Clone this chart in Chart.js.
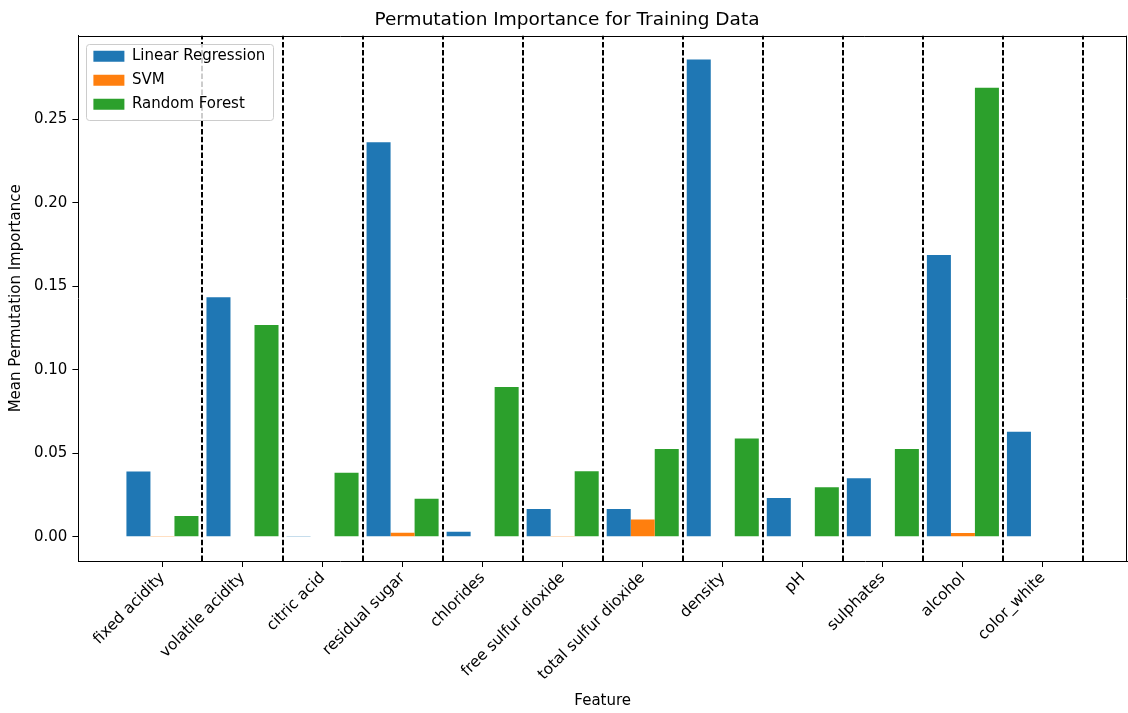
<!DOCTYPE html>
<html lang="en">
<head>
<meta charset="utf-8">
<title>Permutation Importance for Training Data</title>
<script src="https://cdn.jsdelivr.net/npm/chart.js@4.4.1/dist/chart.umd.min.js"></script>
<style>
  body { margin: 0; background: #fff; }
</style>
</head>
<body>
<canvas id="importance-chart" width="1128" height="713"></canvas>
<script>
const features = ['fixed acidity', 'volatile acidity', 'citric acid', 'residual sugar', 'chlorides',
  'free sulfur dioxide', 'total sulfur dioxide', 'density', 'pH', 'sulphates', 'alcohol', 'color_white'];
const linearRegression = [0.0390, 0.1433, 0.0005, 0.2361, 0.0030, 0.0166, 0.0166, 0.2857, 0.0232, 0.0350, 0.1687, 0.0628];
const svm = [0.0005, 0, 0, 0.0024, 0, 0.0005, 0.0104, 0, 0, 0, 0.0022, 0];
const randomForest = [0.0124, 0.1268, 0.0384, 0.0228, 0.0896, 0.0392, 0.0526, 0.0588, 0.0296, 0.0526, 0.2687, 0];

const toPoints = values => values.map((v, i) => ({ x: i, y: v }));

Chart.defaults.font.family = '"DejaVu Sans", sans-serif';
Chart.defaults.color = '#000';

// dashed separators between features, legend backdrop and the axes frame
const decorations = {
  id: 'decorations',
  afterLayout(chart) {
    // keep the legend inside the upper left corner of the plot
    const legend = chart.legend;
    const area = chart.chartArea;
    const w = legend.width;
    const h = legend.height;
    legend.left = area.left + 6;
    legend.right = legend.left + w;
    legend.top = area.top + 4;
    legend.bottom = legend.top + h;
  },
  beforeDraw(chart) {
    const { ctx, chartArea, scales: { x } } = chart;
    ctx.save();
    ctx.strokeStyle = '#000';
    ctx.lineWidth = 2;
    ctx.setLineDash([5.5, 2.4]);
    features.forEach((name, i) => {
      const px = Math.round(x.getPixelForValue(i + 0.5));
      ctx.beginPath();
      ctx.moveTo(px, chartArea.bottom);
      ctx.lineTo(px, chartArea.top);
      ctx.stroke();
    });
    ctx.restore();

    const boxes = chart.legend.legendHitBoxes;
    if (!boxes || !boxes.length) return;
    const left = Math.min(...boxes.map(b => b.left)) - 7;
    const top = Math.min(...boxes.map(b => b.top)) - 5;
    const right = Math.max(...boxes.map(b => b.left + b.width)) + 8;
    const bottom = Math.max(...boxes.map(b => b.top + b.height)) + 8;
    ctx.save();
    ctx.fillStyle = 'rgba(255,255,255,0.8)';
    ctx.strokeStyle = '#cccccc';
    ctx.lineWidth = 1;
    ctx.beginPath();
    ctx.roundRect(Math.round(left) + 0.5, Math.round(top) + 0.5, Math.round(right - left), Math.round(bottom - top), 3);
    ctx.fill();
    ctx.stroke();
    ctx.restore();
  },
  afterDraw(chart) {
    const { ctx, chartArea } = chart;
    ctx.save();
    ctx.strokeStyle = '#000';
    ctx.lineWidth = 1;
    ctx.beginPath();
    ctx.moveTo(chartArea.left, Math.round(chartArea.top) + 0.5);
    ctx.lineTo(chartArea.right, Math.round(chartArea.top) + 0.5);
    ctx.moveTo(Math.round(chartArea.right) - 0.5, chartArea.top);
    ctx.lineTo(Math.round(chartArea.right) - 0.5, chartArea.bottom);
    ctx.stroke();
    ctx.restore();
  }
};

const ctx = document.getElementById('importance-chart').getContext('2d');
const chart = new Chart(ctx, {
  type: 'bar',
  data: {
    datasets: [
      { label: 'Linear Regression', data: toPoints(linearRegression), backgroundColor: '#1f77b4' },
      { label: 'SVM', data: toPoints(svm), backgroundColor: '#ff7f0e' },
      { label: 'Random Forest', data: toPoints(randomForest), backgroundColor: '#2ca02c' },
    ],
  },
  options: {
    responsive: false,
    animation: false,
    categoryPercentage: 0.9,
    barPercentage: 1.0,
    borderWidth: 0,
    inflateAmount: 0,
    layout: { padding: { left: 7, right: 1, top: 0, bottom: 0 } },
    plugins: {
      title: {
        display: true,
        text: 'Permutation Importance for Training Data',
        font: { size: 18.5, weight: 'normal' },
        padding: { top: 9, bottom: 4.5 },
      },
      legend: {
        position: 'chartArea',
        align: 'start',
        labels: {
          boxWidth: 31,
          boxHeight: 11,
          padding: 9,
          font: { size: 15 },
        },
      },
      tooltip: { enabled: false },
    },
    scales: {
      x: {
        type: 'linear',
        min: -1.05,
        max: 12.05,
        offset: false,
        afterBuildTicks: axis => {
          axis.ticks = features.map((name, i) => ({ value: i }));
        },
        ticks: {
          autoSkip: false,
          minRotation: 45,
          maxRotation: 45,
          padding: 2,
          font: { size: 15.4 },
          callback: value => features[value],
        },
        grid: { offset: false, drawOnChartArea: false, tickLength: 6, color: '#000' },
        border: { color: '#000', width: 1 },
        title: {
          display: true,
          text: 'Feature',
          font: { size: 15 },
          padding: { top: 6, bottom: 3 },
        },
      },
      y: {
        min: -0.0145,
        max: 0.2999,
        ticks: {
          stepSize: 0.05,
          includeBounds: false,
          padding: 5,
          font: { size: 15 },
          callback: value => value.toFixed(2),
        },
        grid: { drawOnChartArea: false, tickLength: 6, color: '#000' },
        border: { color: '#000', width: 1 },
        title: {
          display: true,
          text: 'Mean Permutation Importance',
          font: { size: 15 },
          padding: { top: 0, bottom: 4 },
        },
      },
    },
  },
  plugins: [decorations],
});
</script>
</body>
</html>
